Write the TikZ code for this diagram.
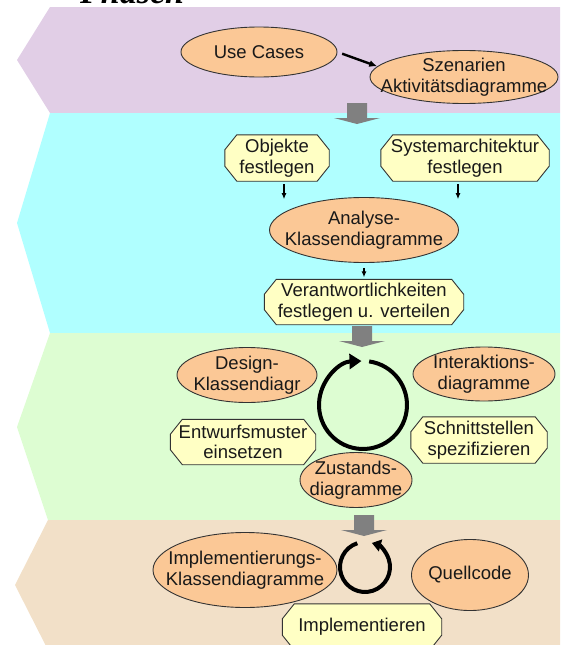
\documentclass[tikz,border=0pt]{standalone}
\usepackage{fontspec}
\setmainfont{Liberation Sans}
\newfontfamily\titlefont{Liberation Serif}
\usetikzlibrary{arrows.meta, shapes.geometric}

\definecolor{phaseA}{RGB}{225,206,230}
\definecolor{phaseB}{RGB}{176,255,255}
\definecolor{phaseC}{RGB}{221,253,210}
\definecolor{phaseD}{RGB}{242,224,200}
\definecolor{ovalfill}{RGB}{251,200,150}
\definecolor{taskfill}{RGB}{255,255,196}

\pgfdeclarelayer{bg}
\pgfsetlayers{bg,main}

\begin{document}
\begin{tikzpicture}[x=1pt, y=-1pt, font=\fontsize{18.5}{20.5}\selectfont,
    oval/.style={ellipse, draw=black!80, line width=0.9pt, fill=ovalfill, inner sep=-100pt, align=center, text=black!90},
    task/.style={rectangle, inner sep=0pt, align=center, text=black!90},
    taskshape/.style={draw=black!80, line width=0.9pt, fill=taskfill},
    link/.style={-{Latex[length=8pt,width=7pt]}, line width=2.4pt},
    stub/.style={-{Latex[length=6pt,width=5pt]}, line width=1.4pt},
    cyc/.style={line width=4pt},
    blockarr/.style={fill=black!50}]
	\useasboundingbox (0,0) rectangle (560,645);

	% phases
	\begin{pgfonlayer}{bg}
	\fill[phaseA] (50,7) -- (17,60) -- (50,113) -- (560,113) -- (560,7) -- cycle;
	\fill[phaseB] (50,113) -- (17,223) -- (50,333) -- (560,333) -- (560,113) -- cycle;
	\fill[phaseC] (50,333) -- (17,427) -- (48,520) -- (560,520) -- (560,333) -- cycle;
	\fill[phaseD] (48,520) -- (15,585) -- (48,650) -- (560,650) -- (560,520) -- cycle;
	\end{pgfonlayer}
	\node[anchor=base west, inner sep=0pt] (title) at (80,3) {\titlefont\fontsize{34}{36}\selectfont\bfseries\itshape Phasen};

	% arrows between phases
	\foreach \x/\y in {357/103, 362/326, 364/515}
		\fill[blockarr] ({\x-10},\y) -- ({\x+10},\y) -- ({\x+10},{\y+15}) -- ({\x+23},{\y+15})
			-- (\x,{\y+21}) -- ({\x-23},{\y+15}) -- ({\x-10},{\y+15}) -- cycle;

	\node[oval, minimum width=156, minimum height=50] (uc) at (259,52) {Use Cases};
	\node[oval, minimum width=188, minimum height=53] (sz) at (464,77) {Szenarien\\Aktivitätsdiagramme};

	\node[task, minimum width=104, minimum height=46] (obj) at (277,158) {Objekte\\festlegen};
	\node[task, minimum width=168, minimum height=46] (sys) at (465,158) {Systemarchitektur\\festlegen};
	\node[oval, minimum width=189, minimum height=65] (ana) at (364,230) {Analyse-\\Klassendiagramme};
	\node[task, minimum width=199, minimum height=45] (ver) at (364,302) {Verantwortlichkeiten\\festlegen u. verteilen};

	\node[oval, minimum width=140, minimum height=55] (des) at (247,375) {Design-\\Klassendiagr};
	\node[oval, minimum width=142, minimum height=54] (int) at (484,374) {Interaktions-\\diagramme};
	\node[task, minimum width=145, minimum height=45] (ent) at (243,442) {Entwurfsmuster\\einsetzen};
	\node[task, minimum width=136, minimum height=46] (sch) at (479,440) {Schnittstellen\\spezifizieren};
	\node[oval, minimum width=112, minimum height=55] (zus) at (356,480) {Zustands-\\diagramme};
	\coordinate (loopA) at (363,405);

	\node[oval, minimum width=184, minimum height=75] (impl) at (245,570) {Implementierungs-\\Klassendiagramme};
	\node[oval, minimum width=117, minimum height=71] (src) at (470,575) {Quellcode};
	\node[task, minimum width=159, minimum height=46] (imp) at (362,627) {Implementieren};
	\coordinate (loopB) at (365,567);

	% octagon outlines behind the task texts
	\begin{pgfonlayer}{bg}
	\foreach \n in {obj, sys, ver, ent, sch, imp}
		\filldraw[taskshape] ([xshift=12pt]\n.north west) -- ([xshift=-12pt]\n.north east)
			-- ([yshift=-15pt]\n.north east) -- ([yshift=15pt]\n.south east)
			-- ([xshift=-12pt]\n.south east) -- ([xshift=12pt]\n.south west)
			-- ([yshift=15pt]\n.south west) -- ([yshift=-15pt]\n.north west) -- cycle;
	\end{pgfonlayer}

	\draw[link, shorten <=5pt] (uc.east) -- (sz.173);
	\draw[stub] ([xshift=7pt,yshift=-3pt]obj.south) -- ++(0,15);
	\draw[stub] ([xshift=-7pt,yshift=-3pt]sys.south) -- ++(0,15);
	\draw[stub, shorten <=5pt, shorten >=2pt] (ana) -- (ver);

	\draw[cyc, -{Triangle[length=12pt,width=15pt]}] ([shift={(-82:44)}]loopA) arc[start angle=-82, end angle=268, radius=44];
	\draw[cyc, -{Triangle[length=9pt,width=12pt]}] ([shift={(252:25)}]loopB) arc[start angle=252, end angle=-74, radius=25];
\end{tikzpicture}
\end{document}
